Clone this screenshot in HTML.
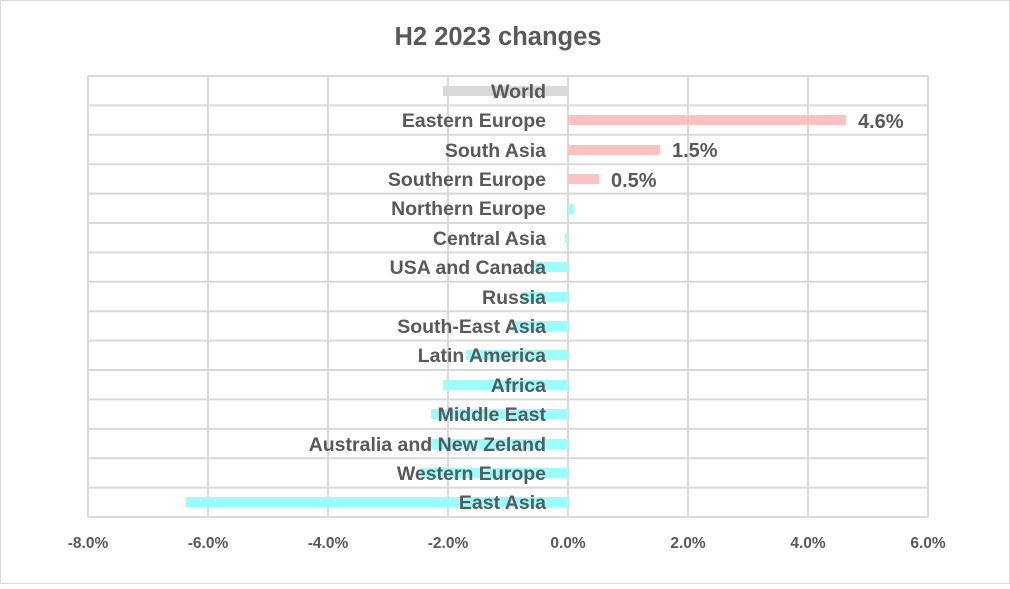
<!DOCTYPE html>
<html><head><style>
body{margin:0;background:#fff;}
svg text{font-family:"Liberation Sans",sans-serif;fill:#595959;}
</style></head><body>
<svg width="1010" height="584" viewBox="0 0 1010 584">
<rect x="0.5" y="0.5" width="1009" height="583" fill="#fff" stroke="#d9d9d9"/>
<text x="498" y="45" text-anchor="middle" font-size="25.5" font-weight="bold">H2 2023 changes</text>
<g stroke="#d9d9d9" stroke-width="2">
<line x1="88" y1="76" x2="928" y2="76"/>
<line x1="88" y1="105.4" x2="928" y2="105.4"/>
<line x1="88" y1="134.8" x2="928" y2="134.8"/>
<line x1="88" y1="164.2" x2="928" y2="164.2"/>
<line x1="88" y1="193.6" x2="928" y2="193.6"/>
<line x1="88" y1="223" x2="928" y2="223"/>
<line x1="88" y1="252.4" x2="928" y2="252.4"/>
<line x1="88" y1="281.8" x2="928" y2="281.8"/>
<line x1="88" y1="311.2" x2="928" y2="311.2"/>
<line x1="88" y1="340.6" x2="928" y2="340.6"/>
<line x1="88" y1="370" x2="928" y2="370"/>
<line x1="88" y1="399.4" x2="928" y2="399.4"/>
<line x1="88" y1="428.8" x2="928" y2="428.8"/>
<line x1="88" y1="458.2" x2="928" y2="458.2"/>
<line x1="88" y1="487.6" x2="928" y2="487.6"/>
<line x1="88" y1="517" x2="928" y2="517"/>
<line x1="88" y1="76" x2="88" y2="517"/>
<line x1="208" y1="76" x2="208" y2="517"/>
<line x1="328" y1="76" x2="328" y2="517"/>
<line x1="448" y1="76" x2="448" y2="517"/>
<line x1="568" y1="76" x2="568" y2="517"/>
<line x1="688" y1="76" x2="688" y2="517"/>
<line x1="808" y1="76" x2="808" y2="517"/>
<line x1="928" y1="76" x2="928" y2="517"/>
</g>
<g>
<rect x="443" y="86" width="125" height="10" fill="#d9d9d9"/>
<rect x="568" y="115" width="278" height="10" fill="#ffc0c0"/>
<rect x="568" y="145" width="92" height="10" fill="#ffc0c0"/>
<rect x="568" y="174" width="31" height="10" fill="#ffc0c0"/>
<rect x="568" y="204" width="6" height="10" fill="#99ffff"/>
<rect x="565" y="233" width="3" height="10" fill="#99ffff"/>
<rect x="533" y="262" width="35" height="10" fill="#99ffff"/>
<rect x="521" y="292" width="47" height="10" fill="#99ffff"/>
<rect x="510" y="321" width="58" height="10" fill="#99ffff"/>
<rect x="466" y="350" width="102" height="10" fill="#99ffff"/>
<rect x="443" y="380" width="125" height="10" fill="#99ffff"/>
<rect x="431" y="409" width="137" height="10" fill="#99ffff"/>
<rect x="427" y="439" width="141" height="10" fill="#99ffff"/>
<rect x="420" y="468" width="148" height="10" fill="#99ffff"/>
<rect x="186" y="497" width="382" height="10" fill="#99ffff"/>
</g>
<g font-size="19.5" font-weight="bold" text-anchor="end">
<text x="546" y="98">World</text>
<text x="546" y="127">Eastern Europe</text>
<text x="546" y="157">South Asia</text>
<text x="546" y="186">Southern Europe</text>
<text x="546" y="215">Northern Europe</text>
<text x="546" y="245">Central Asia</text>
<text x="546" y="274">USA and Canada</text>
<text x="546" y="304">Russia</text>
<text x="546" y="333">South-East Asia</text>
<text x="546" y="362">Latin America</text>
<text x="546" y="392">Africa</text>
<text x="546" y="421">Middle East</text>
<text x="546" y="451">Australia and New Zeland</text>
<text x="546" y="480">Western Europe</text>
<text x="546" y="509">East Asia</text>
</g>
<g font-size="20" font-weight="bold">
<text x="858" y="128">4.6%</text>
<text x="672" y="157">1.5%</text>
<text x="611" y="187">0.5%</text>
</g>
<g font-size="15.5" font-weight="bold" text-anchor="middle">
<text x="88" y="548">-8.0%</text>
<text x="208" y="548">-6.0%</text>
<text x="328" y="548">-4.0%</text>
<text x="448" y="548">-2.0%</text>
<text x="568" y="548">0.0%</text>
<text x="688" y="548">2.0%</text>
<text x="808" y="548">4.0%</text>
<text x="928" y="548">6.0%</text>
</g>
</svg>
</body></html>
